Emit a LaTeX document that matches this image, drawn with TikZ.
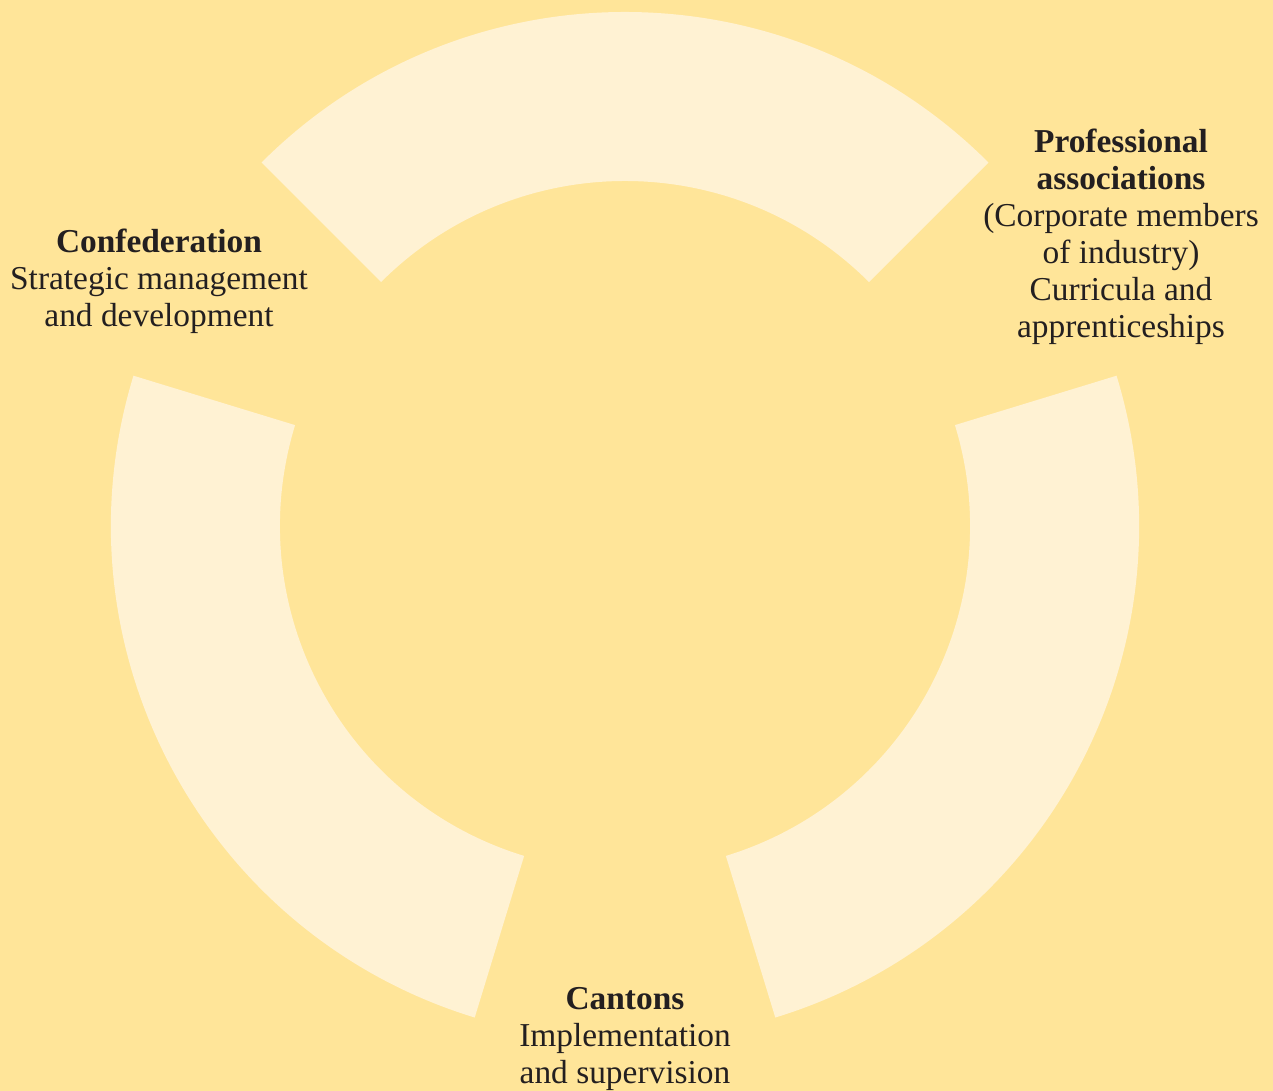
\documentclass[tikz,border=0pt]{standalone}
\usepackage{fontspec}
\setmainfont{Liberation Serif}
\definecolor{backyellow}{HTML}{FFE599}
\definecolor{ringcream}{HTML}{FFF2D3}
\definecolor{inkgrey}{HTML}{231F20}

\begin{document}
\begin{tikzpicture}[x=0.5pt,y=0.5pt]
\fill[backyellow] (0,0) rectangle (1273,1091);
\useasboundingbox (0,0) rectangle (1273,1091);
\begin{scope}[shift={(625,565)},every path/.style={fill=ringcream}]
    \path (45:514) arc[start angle=45, end angle=135, radius=257pt]
        -- (135:345) arc[start angle=135, end angle=45, radius=172.5pt] -- cycle;
    \path (163:514) arc[start angle=163, end angle=253, radius=257pt]
        -- (253:345) arc[start angle=253, end angle=163, radius=172.5pt] -- cycle;
    \path (287:514) arc[start angle=287, end angle=377, radius=257pt]
        -- (377:345) arc[start angle=377, end angle=287, radius=172.5pt] -- cycle;
\end{scope}
\begin{scope}[every node/.style={align=center,anchor=base,text=inkgrey,
              font=\fontsize{16.7}{18.5}\selectfont,inner sep=0pt}]
    \node (conf) at (159,764) {\textbf{Confederation}\\Strategic management\\and development};
    \node (assoc) at (1121,753) {\textbf{Professional}\\\textbf{associations}\\(Corporate members\\of industry)\\Curricula and\\apprenticeships};
    \node (cant) at (625,7) {\textbf{Cantons}\\Implementation\\and supervision};
\end{scope}
\end{tikzpicture}
\end{document}
